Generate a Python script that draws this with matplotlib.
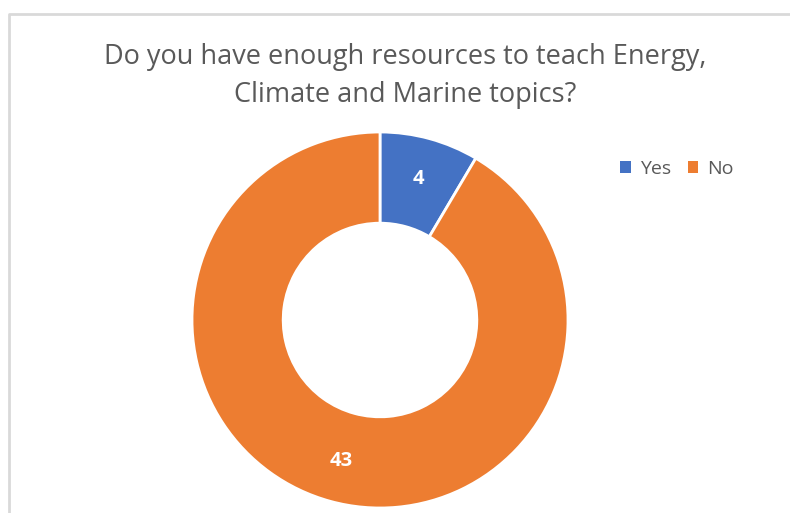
import matplotlib as mpl
mpl.use('agg')
import matplotlib.pyplot as plt
from matplotlib.lines import Line2D
from matplotlib.patches import Patch

# chart data
categories = ['Yes', 'No']
counts = [4, 43]
colors = ['#4472C4', '#ED7D31']
title = 'Do you have enough resources to teach Energy,\nClimate and Marine topics?'

W, H = 790, 513
fig = plt.figure(figsize=(W / 100, H / 100), dpi=100)

# light grey chart-area border, only left and top edges are in view
fig.lines.append(Line2D([9 / W, 9 / W, 1.05], [-0.05, 1 - 14 / H, 1 - 14 / H],
                        transform=fig.transFigure, color='#d9d9d9',
                        linewidth=2))

# axes placed so the donut is centred at (380, 320) px with radius 188 px
r = 188
ax = fig.add_axes([(380 - r) / W, (H - 320 - r) / H, 2 * r / W, 2 * r / H])

wedges, texts, autotexts = ax.pie(
    counts, colors=colors, startangle=90, counterclock=False,
    radius=1.0, autopct=lambda p: '%d' % round(p * sum(counts) / 100),
    pctdistance=0.775,
    wedgeprops=dict(width=0.485, edgecolor='white', linewidth=2),
    textprops=dict(color='white', fontsize=14.5, fontweight='bold',
                   family='Open Sans'))
ax.set_xlim(-1, 1)
ax.set_ylim(-1, 1)
ax.set_aspect('equal')
ax.axis('off')

fig.text(405 / W, 1 - 76 / H, title, ha='center', va='center',
         fontsize=19.5, color='#595959', family='Open Sans',
         linespacing=1.5)

handles = [Patch(facecolor=c, edgecolor='none') for c in colors]
fig.legend(handles, categories, loc='center', bbox_to_anchor=(677 / W, 1 - 169 / H),
           ncol=2, frameon=False, handlelength=0.55,
           handleheight=0.55, handletextpad=0.45, columnspacing=0.85,
           labelcolor='#595959', prop=dict(family='Open Sans', size=14))

fig.savefig('out.png', dpi=100)
